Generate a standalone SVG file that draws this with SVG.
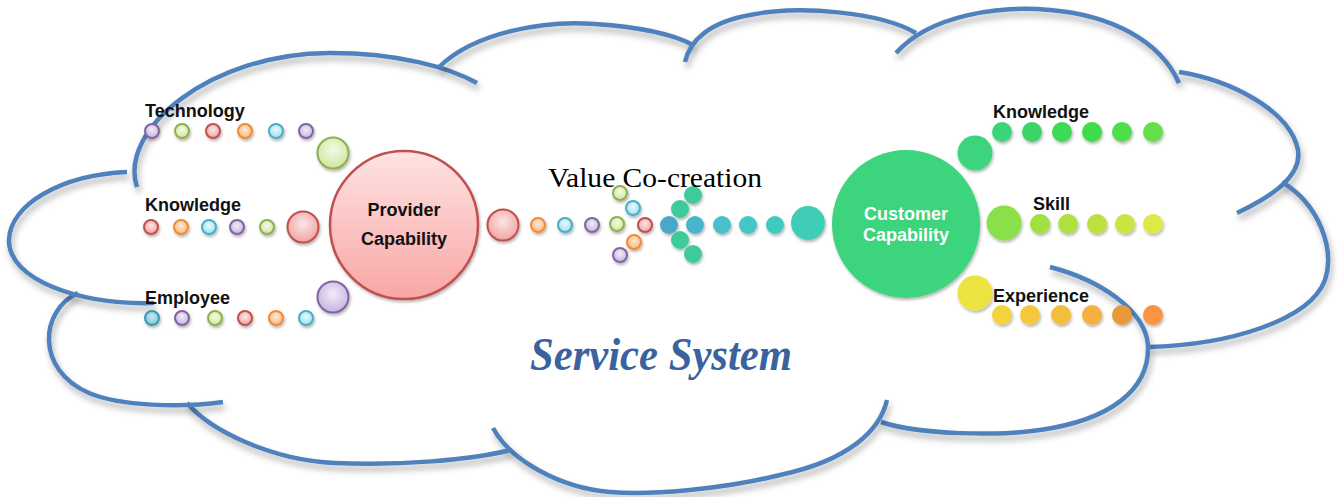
<svg xmlns="http://www.w3.org/2000/svg" width="1339" height="497" viewBox="0 0 1339 497">
<defs>
<filter id="sh" x="-10%" y="-10%" width="120%" height="140%"><feDropShadow dx="2" dy="5" stdDeviation="3" flood-color="#000" flood-opacity="0.3"/></filter>
<filter id="ds" x="-30%" y="-30%" width="160%" height="170%"><feDropShadow dx="1" dy="2" stdDeviation="1.5" flood-color="#000" flood-opacity="0.3"/></filter>
<radialGradient id="gP" cx="50%" cy="40%" r="60%"><stop offset="0" stop-color="#F1ECF8"/><stop offset="1" stop-color="#C5B3DD"/></radialGradient>
<radialGradient id="gG" cx="50%" cy="40%" r="60%"><stop offset="0" stop-color="#F4FAE7"/><stop offset="1" stop-color="#CFE6A0"/></radialGradient>
<radialGradient id="gR" cx="50%" cy="40%" r="60%"><stop offset="0" stop-color="#FCE6E6"/><stop offset="1" stop-color="#EFA3A2"/></radialGradient>
<radialGradient id="gO" cx="50%" cy="40%" r="60%"><stop offset="0" stop-color="#FFEAD6"/><stop offset="1" stop-color="#FBB77A"/></radialGradient>
<radialGradient id="gC" cx="50%" cy="40%" r="60%"><stop offset="0" stop-color="#E8F9FD"/><stop offset="1" stop-color="#9EDFF0"/></radialGradient>
<radialGradient id="gT" cx="50%" cy="40%" r="60%"><stop offset="0" stop-color="#CBE8F0"/><stop offset="1" stop-color="#7CC3D6"/></radialGradient>
<linearGradient id="gProv" x1="0" y1="0" x2="0" y2="1"><stop offset="0" stop-color="#FFE3E3"/><stop offset="1" stop-color="#F8A6A5"/></linearGradient>
<style>
.cloud{fill:none;stroke:#4F81BD;stroke-width:4.5;filter:url(#sh)}
.lbl{font-family:"Liberation Sans",Arial,sans-serif;font-weight:bold;font-size:18px;fill:#111}
.d{stroke-width:2;filter:url(#ds)}
.P{fill:url(#gP);stroke:#8064A2}
.G{fill:url(#gG);stroke:#8DB04E}
.R{fill:url(#gR);stroke:#C0504D}
.O{fill:url(#gO);stroke:#F08A35}
.C{fill:url(#gC);stroke:#4BACC6}
.T{fill:url(#gT);stroke:#3A9AB5}
.f{filter:url(#ds)}
</style>
</defs>
<rect width="1339" height="497" fill="#fff"/>
<g id="cloud">
<path class="cloud" d="M137,187 C118,130 210,53 330,53 C400,53 450,68 477,83"/>
<path class="cloud" d="M439,67 C475,32 545,20 595,24 C640,27 675,35 693,45"/>
<path class="cloud" d="M916,33 C880,12 800,5 750,15 C710,22 690,40 685,62"/>
<path class="cloud" d="M896,53 C930,15 1000,5 1050,10 C1110,15 1160,40 1179,83"/>
<path class="cloud" d="M1179,72 C1230,80 1290,110 1298,150 C1302,175 1275,195 1237,213"/>
<path class="cloud" d="M1282,182 C1320,205 1335,250 1325,280 C1310,320 1230,345 1148,347"/>
<path class="cloud" d="M1050,267 C1100,280 1145,310 1148,345 C1150,390 1110,420 1040,430 C1000,436 920,435 881,422"/>
<path class="cloud" d="M887,400 C880,430 850,460 780,475 C720,490 650,495 610,492 C560,488 510,460 493,428"/>
<path class="cloud" d="M187,403 C210,430 270,460 335,463 C400,466 470,460 511,450"/>
<path class="cloud" d="M78,293 C40,310 35,370 89,393 C120,406 180,408 223,402"/>
<path class="cloud" d="M127,172 C60,175 10,205 9,240 C8,280 80,305 154,303"/>
</g>
<g id="connectors">
<g id="tech-chain">
<circle class="d P" cx="152" cy="131" r="7"/><circle class="d G" cx="182" cy="131" r="7"/><circle class="d R" cx="213" cy="131" r="7"/><circle class="d O" cx="245" cy="131" r="7"/><circle class="d C" cx="276" cy="131" r="7"/><circle class="d P" cx="306" cy="131" r="7"/>
<circle class="d G" cx="333" cy="153" r="15.5"/>
</g>
<g id="know-chain">
<circle class="d R" cx="151" cy="227" r="7"/><circle class="d O" cx="181" cy="227" r="7"/><circle class="d C" cx="209" cy="227" r="7"/><circle class="d P" cx="237" cy="227" r="7"/><circle class="d G" cx="267" cy="227" r="7"/>
<circle class="d R" cx="303" cy="227" r="15.5"/>
</g>
<g id="emp-chain">
<circle class="d T" cx="152" cy="318" r="7"/><circle class="d P" cx="182" cy="318" r="7"/><circle class="d G" cx="215" cy="318" r="7"/><circle class="d R" cx="245" cy="318" r="7"/><circle class="d O" cx="276" cy="318" r="7"/><circle class="d C" cx="306" cy="318" r="7"/>
<circle class="d P" cx="333" cy="297" r="15.5"/>
</g>
<g id="provider-arrow">
<circle class="d R" cx="503" cy="225" r="15.5"/>
<circle class="d O" cx="538" cy="225" r="7"/><circle class="d C" cx="565" cy="225" r="7"/><circle class="d P" cx="592" cy="225" r="7"/><circle class="d G" cx="617" cy="224" r="7"/><circle class="d R" cx="645" cy="225" r="7"/>
<circle class="d G" cx="620" cy="193" r="7"/><circle class="d C" cx="633" cy="208" r="7"/><circle class="d O" cx="634" cy="242" r="7"/><circle class="d P" cx="620" cy="255" r="7"/>
</g>
<g id="customer-arrow" class="f">
<circle cx="693" cy="195" r="9" fill="#3DCB9B"/><circle cx="680" cy="209" r="9" fill="#3DCB9B"/><circle cx="680" cy="240" r="9" fill="#3DCB9B"/><circle cx="693" cy="254" r="9" fill="#3DCB9B"/>
<circle cx="669" cy="225" r="9" fill="#4AA8C8"/><circle cx="695" cy="225" r="9" fill="#47B6CB"/><circle cx="722" cy="225" r="9" fill="#46C0CA"/><circle cx="748" cy="225" r="9" fill="#45C6C6"/><circle cx="775" cy="225" r="9" fill="#43C9BF"/>
<circle cx="808" cy="223" r="17" fill="#3FCDB6"/>
</g>
<g id="cknow-chain" class="f">
<circle cx="975" cy="153" r="17.5" fill="#3ED47E"/>
<circle cx="1002" cy="132" r="10" fill="#3BD47A"/><circle cx="1032" cy="132" r="10" fill="#3AD468"/><circle cx="1062" cy="132" r="10" fill="#3ADB55"/><circle cx="1092" cy="132" r="10" fill="#3EDC48"/><circle cx="1122" cy="132" r="10" fill="#50DE48"/><circle cx="1153" cy="132" r="10" fill="#66E04A"/>
</g>
<g id="skill-chain" class="f">
<circle cx="1004" cy="223" r="17.5" fill="#8AE048"/>
<circle cx="1040" cy="224" r="10" fill="#A0E040"/><circle cx="1068" cy="224" r="10" fill="#ADE040"/><circle cx="1097" cy="224" r="10" fill="#BBE040"/><circle cx="1125" cy="224" r="10" fill="#CCE443"/><circle cx="1153" cy="224" r="10" fill="#DCEA46"/>
</g>
<g id="exp-chain" class="f">
<circle cx="975" cy="293" r="17.5" fill="#EDE340"/>
<circle cx="1002" cy="315" r="10" fill="#F2D23C"/><circle cx="1030" cy="315" r="10" fill="#F3C83C"/><circle cx="1061" cy="315" r="10" fill="#F4BE3E"/><circle cx="1092" cy="315" r="10" fill="#F6B03E"/><circle cx="1122" cy="315" r="10" fill="#E89A38"/><circle cx="1153" cy="315" r="10" fill="#F99440"/>
</g>
</g>
<g id="provider">
<circle cx="404" cy="225" r="74" fill="url(#gProv)" stroke="#C0504D" stroke-width="2.5" filter="url(#ds)"/>
<text class="lbl" x="404" y="216" text-anchor="middle">Provider</text>
<text class="lbl" x="404" y="245" text-anchor="middle">Capability</text>
</g>
<g id="customer">
<circle cx="906" cy="224" r="74" fill="#3ED47E" filter="url(#ds)"/>
<text class="lbl" x="906" y="220" text-anchor="middle" style="fill:#fff">Customer</text>
<text class="lbl" x="906" y="241" text-anchor="middle" style="fill:#fff">Capability</text>
</g>
<g id="labels">
<text class="lbl" x="145" y="117">Technology</text>
<text class="lbl" x="145" y="211">Knowledge</text>
<text class="lbl" x="145" y="304">Employee</text>
<text class="lbl" x="993" y="118">Knowledge</text>
<text class="lbl" x="1033" y="210">Skill</text>
<text class="lbl" x="993" y="302">Experience</text>
</g>
<g id="value-cocreation">
<text x="548" y="187" font-family="Liberation Serif,'Times New Roman',serif" font-size="28" textLength="214" lengthAdjust="spacingAndGlyphs" fill="#000">Value Co-creation</text>
</g>
<g id="service-system">
<text x="661" y="370" text-anchor="middle" font-family="Liberation Serif,'Times New Roman',serif" font-size="46" font-weight="bold" font-style="italic" fill="#3A629E" textLength="262" lengthAdjust="spacingAndGlyphs">Service System</text>
</g>
</svg>
